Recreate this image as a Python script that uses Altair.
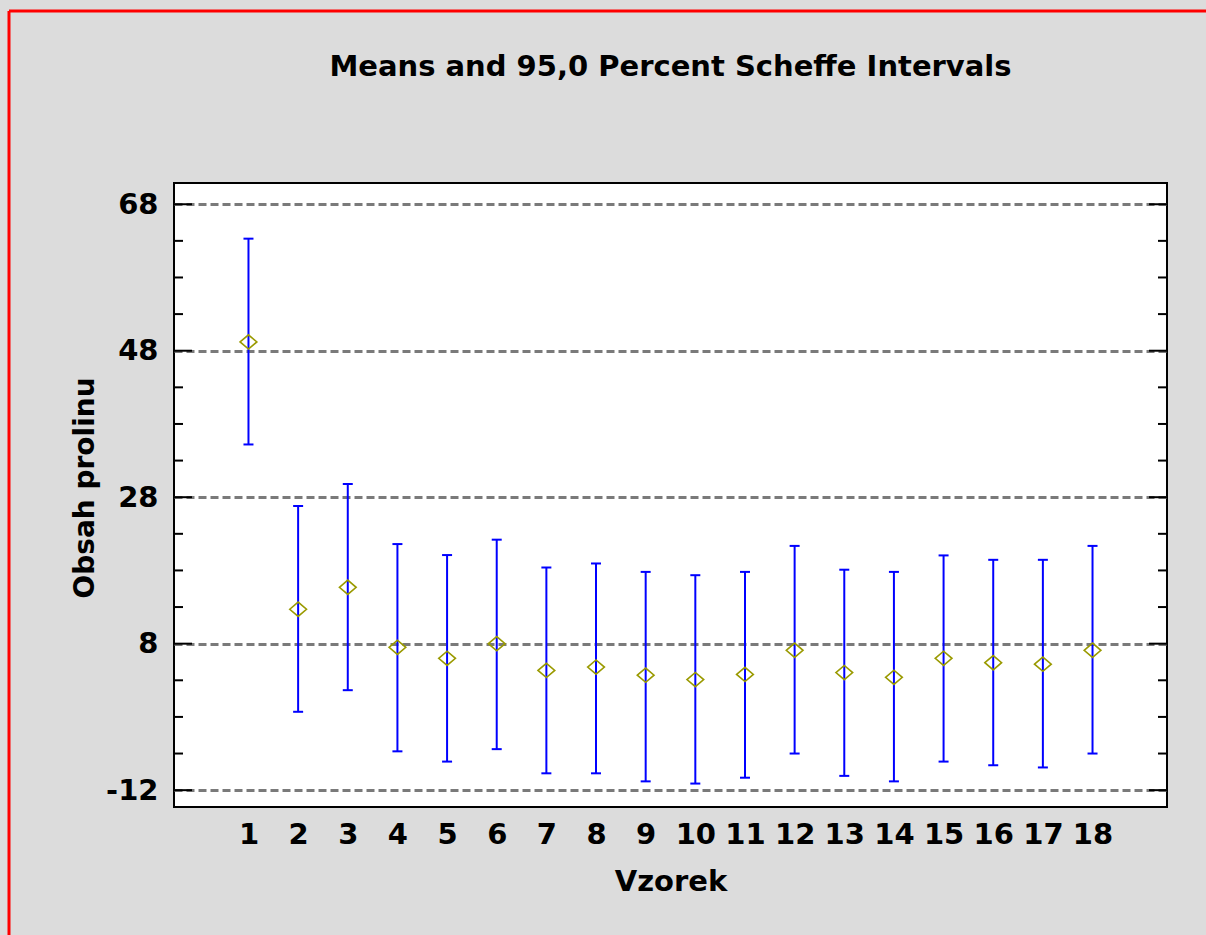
import altair as alt
import pandas as pd

# Group means and 95% Scheffe interval limits per sample
categories = list(range(1, 19))
means = [49.2, 12.7, 15.7, 7.5, 6.0, 8.0, 4.35, 4.8, 3.7, 3.1, 3.8, 7.1, 4.05, 3.4, 6.0, 5.4, 5.2, 7.1]
lower = [35.2, -1.3, 1.65, -6.7, -8.1, -6.4, -9.7, -9.7, -10.8, -11.1, -10.3, -7.0, -10.05, -10.8, -8.1, -8.6, -8.9, -7.0]
upper = [63.3, 26.8, 29.8, 21.6, 20.1, 22.2, 18.4, 18.95, 17.8, 17.35, 17.8, 21.35, 18.1, 17.8, 20.05, 19.45, 19.45, 21.35]

# Axis tick positions
major_ticks = [68, 48, 28, 8, -12]
minor_ticks = [63, 58, 53, 43, 38, 33, 23, 18, 13, 3, -2, -7]

W, H = 993, 624
FONT = "DejaVu Sans"
BLUE = "#0000FF"
OLIVE = "#9A9A00"
DIAMOND = "M -1 0 L 0 -0.85 L 1 0 L 0 0.85 Z"
Y_TITLE = "Obsah prolinu"

df = pd.DataFrame({"Vzorek": categories, "mean": means, "lower": lower, "upper": upper})
maj = pd.DataFrame({"v": major_ticks})
mnr = pd.DataFrame({"v": minor_ticks})
one = pd.DataFrame({"k": [0]})

xs = alt.Scale(domain=[-0.5, 19.5], nice=False, zero=False)
ys = alt.Scale(domain=[-14.3, 70.9], nice=False, zero=False)

x_axis = alt.Axis(
    values=categories, title="Vzorek", grid=False, ticks=False, tickSize=0,
    domain=False, labelFont=FONT, labelFontSize=29, labelFontWeight="bold",
    labelColor="black", labelPadding=13, labelAngle=0, labelFlush=False,
    labelOverlap=False, titleFont=FONT, titleFontSize=29, titleFontWeight="bold",
    titleColor="black", titleBaseline="alphabetic", titleY=83,
)
y_axis = alt.Axis(
    values=major_ticks, title=Y_TITLE, grid=True, gridColor="#7A7A7A",
    gridDash=[8, 4], gridWidth=2.8, ticks=False, tickSize=0, domain=False,
    labelFont=FONT, labelFontSize=29, labelFontWeight="bold", labelColor="black",
    labelPadding=16, labelFlush=False, labelOverlap=False,
    labelExpr="datum.value + ''",
    titleFont=FONT, titleFontSize=28, titleFontWeight="bold", titleColor="black",
    titleAngle=270, titleAlign="center", titleBaseline="alphabetic",
    titleX=-81, titleY=304.5,
)

base = alt.Chart(df)
x_enc = alt.X("Vzorek:Q", scale=xs, axis=x_axis)

bars = base.mark_rule(color=BLUE, strokeWidth=2).encode(
    x=x_enc,
    y=alt.Y("lower:Q", scale=ys, axis=y_axis, title=Y_TITLE),
    y2="upper:Q",
)
cap_lo = base.mark_tick(orient="horizontal", size=10, thickness=2, color=BLUE, opacity=1).encode(
    x=x_enc, y=alt.Y("lower:Q", scale=ys, title=Y_TITLE)
)
cap_hi = base.mark_tick(orient="horizontal", size=10, thickness=2, color=BLUE, opacity=1).encode(
    x=x_enc, y=alt.Y("upper:Q", scale=ys, title=Y_TITLE)
)
points = base.mark_point(
    shape=DIAMOND, size=280, filled=False, stroke=OLIVE, strokeWidth=1.6, opacity=1
).encode(x=x_enc, y=alt.Y("mean:Q", scale=ys, title=Y_TITLE))

# Inward ticks on both vertical frame edges
def frame_ticks(data, x0, x1):
    return alt.Chart(data).mark_rule(color="black", strokeWidth=2).encode(
        y=alt.Y("v:Q", scale=ys, title=Y_TITLE), x=alt.value(x0), x2=alt.value(x1)
    )

ticks = (
    frame_ticks(maj, 0, 18) + frame_ticks(mnr, 0, 9)
    + frame_ticks(maj, W - 18, W) + frame_ticks(mnr, W - 9, W)
)

# Red window border along the left and top edges
border_left = alt.Chart(one).mark_rule(color="#FF0000", strokeWidth=3).encode(
    x=alt.value(-165), y=alt.value(-172), y2=alt.value(935 - 183)
)
border_top = alt.Chart(one).mark_rule(color="#FF0000", strokeWidth=3).encode(
    x=alt.value(-165), x2=alt.value(1206 - 174), y=alt.value(-172)
)

chart = alt.layer(
    bars, cap_lo, cap_hi, points, ticks, border_left, border_top
).properties(
    width=W,
    height=H,
    autosize=alt.AutoSizeParams(type="none"),
    padding={"left": 174, "top": 183, "right": 39, "bottom": 128},
    background="#DCDCDC",
    title=alt.TitleParams(
        "Means and 95,0 Percent Scheffe Intervals", font=FONT, fontSize=29,
        fontWeight="bold", color="black", anchor="middle", frame="group",
        baseline="alphabetic", offset=0, dy=95,
    ),
).configure_view(stroke="black", strokeWidth=2, fill="white")

chart.save("out.html", embed_options={"renderer": "svg", "actions": False})
